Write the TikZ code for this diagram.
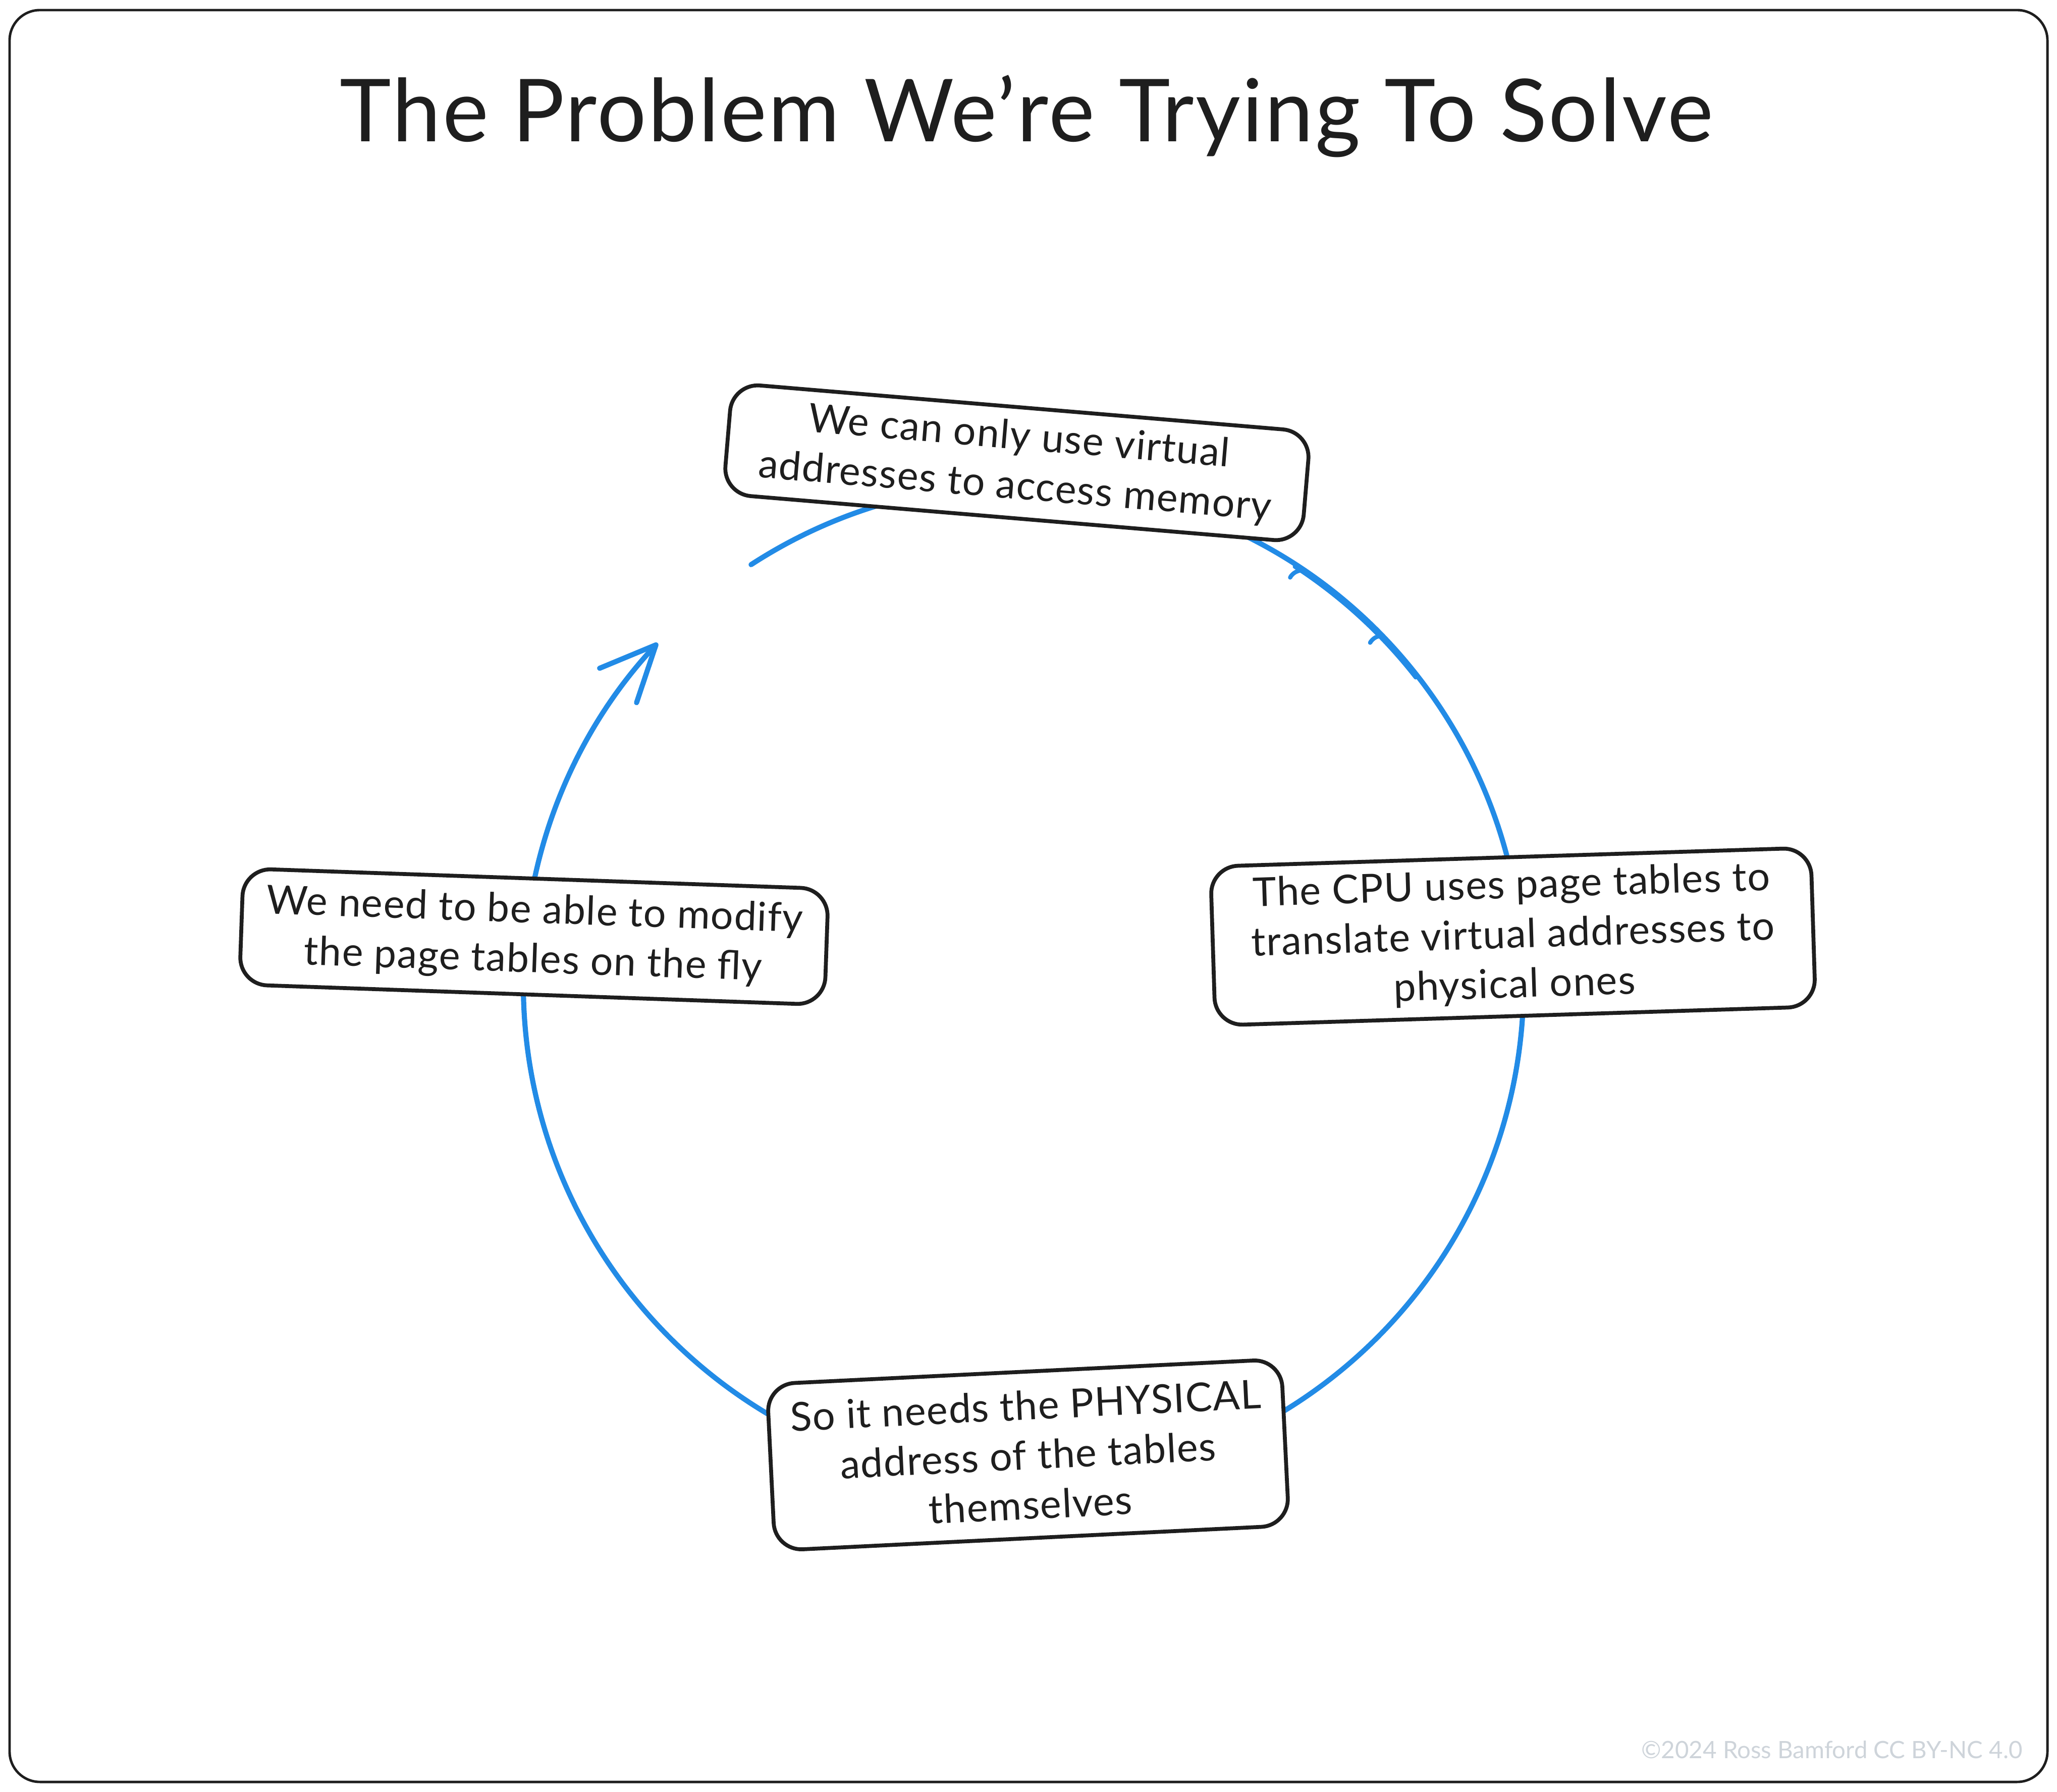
\documentclass[tikz,border=0pt]{standalone}
\usepackage{fontspec}
\setmainfont{Lato}
\usetikzlibrary{arrows.meta}
\definecolor{ink}{HTML}{1E1E1E}
\definecolor{flowblue}{HTML}{228BE6}
\definecolor{faint}{HTML}{CED4DA}

\begin{document}
\begin{tikzpicture}[
  card/.style={draw=ink, line width=2.2pt, fill=white, rounded corners=0.55cm,
               align=center, text=ink, inner sep=0pt,
               font=\fontsize{22.5}{28}\selectfont\addfontfeatures{LetterSpace=2}},
  flow/.style={draw=flowblue, line width=2.9pt, line cap=round},
  outerframe/.style={draw=ink, line width=1.4pt, rounded corners=0.6cm},
]
\useasboundingbox (0,0) rectangle (40.76,-35.51);

% outer frame and heading
\draw[outerframe] (0.19,-0.20) rectangle (40.57,-35.31);
\node[anchor=base, text=ink, font=\fontsize{49}{58}\selectfont\addfontfeatures{LetterSpace=2}] (title)
  at (20.34,-2.81) {The Problem We're Trying To Solve};

% the cycle: one circle, cut into connectors between the cards
\coordinate (hub) at (20.28,-19.50);
\def\R{9.91}
\draw[flow] (hub) ++(123:\R) arc[start angle=123, end angle=2, radius=\R];
\draw[flow] (hub) ++(2:\R) arc[start angle=2, end angle=-90, radius=\R];
\draw[flow] (hub) ++(-90:\R) arc[start angle=-90, end angle=-180, radius=\R];
\draw[flow, -{Straight Barb[length=1.1cm, width=1.0cm, round]}]
  (hub) ++(180:\R) arc[start angle=180, end angle=137, radius=\R];

% doubled stroke and small hooks on the upper right stretch
\draw[draw=flowblue, line width=2pt, line cap=round]
  (hub) ++(57:\R-0.05) arc[start angle=57, end angle=38, radius=\R-0.05];
\path (hub) ++(55.7:\R) coordinate (hookA);
\path (hub) ++(44:\R) coordinate (hookB);
\draw[flow, line width=2.4pt] (hookA) .. controls +(-0.14,0.04) and +(0.04,0.08) .. ++(-0.30,-0.13);
\draw[flow, line width=2.4pt] (hookB) .. controls +(-0.12,0.04) and +(0.04,0.07) .. ++(-0.26,-0.12);

% cards
\node[card, minimum width=11.5cm, minimum height=2.2cm, rotate=-4.8] (mem)
  at (20.15,-9.17) {We can only use virtual\\addresses to access memory};
\node[card, minimum width=11.9cm, minimum height=3.15cm, rotate=1.8] (cpu)
  at (29.98,-18.56) {The CPU uses page tables to\\translate virtual addresses to\\physical ones};
\node[card, minimum width=10.2cm, minimum height=3.3cm, rotate=2.8] (phys)
  at (20.37,-28.83) {So it needs the PHYSICAL\\address of the tables\\themselves};
\node[card, minimum width=11.6cm, minimum height=2.3cm, rotate=-2] (modify)
  at (10.58,-18.56) {We need to be able to modify\\the page tables on the fly};

% credit line
\node[anchor=base east, text=faint, font=\fontsize{13.5}{16}\selectfont] (credit)
  at (40.20,-34.84) {©2024 Ross Bamford CC BY-NC 4.0};
\end{tikzpicture}
\end{document}
